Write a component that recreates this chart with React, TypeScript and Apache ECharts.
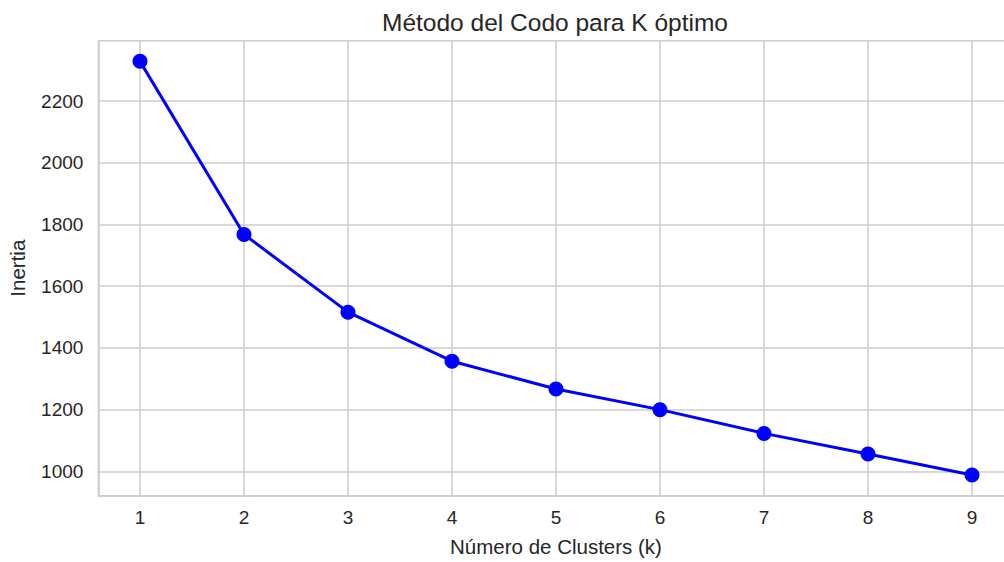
import React, { useEffect, useRef } from "react";
import * as echarts from "echarts";

const kValues = [1, 2, 3, 4, 5, 6, 7, 8, 9];
const inertia = [2329, 1768, 1516, 1357, 1267, 1200, 1123, 1056, 988];
const xTicks = [1, 2, 3, 4, 5, 6, 7, 8, 9];
const yTicks = [1000, 1200, 1400, 1600, 1800, 2000, 2200];

const FONT = "'Liberation Sans', Arial, sans-serif";
const TEXT = "#262626";
const GRID = "#cccccc";

export default function App() {
  const ref = useRef<HTMLDivElement>(null);
  useEffect(() => {
    if (!ref.current) return;
    const chart = echarts.init(ref.current, null, { renderer: "svg" });
    chart.setOption({
      animation: false,
      backgroundColor: "#ffffff",
      title: {
        text: "Método del Codo para K óptimo",
        left: 550,
        top: 5,
        textAlign: "center",
        textStyle: { fontFamily: FONT, fontSize: 24.5, fontWeight: "normal", color: TEXT },
      },
      grid: {
        left: 98.4,
        right: -9.6,
        top: 40.7,
        bottom: 66.3,
        show: true,
        borderColor: GRID,
        borderWidth: 1.5,
        containLabel: false,
        outerBoundsMode: "none",
      },
      xAxis: {
        type: "value",
        min: 0.6,
        max: 9.4,
        name: "Número de Clusters (k)",
        nameLocation: "middle",
        nameGap: 40,
        nameTextStyle: { fontFamily: FONT, fontSize: 20.5, color: TEXT },
        axisLine: { show: true, lineStyle: { color: GRID, width: 1.5 } },
        axisTick: { show: false, customValues: xTicks },
        axisLabel: { customValues: xTicks, fontFamily: FONT, fontSize: 19, color: TEXT, margin: 12 },
        splitLine: { show: true, lineStyle: { color: GRID, width: 1.5 } },
      },
      yAxis: {
        type: "value",
        min: 921,
        max: 2396,
        name: "Inertia",
        nameLocation: "middle",
        nameGap: 70,
        nameRotate: 90,
        nameTextStyle: { fontFamily: FONT, fontSize: 20.5, color: TEXT },
        axisLine: { show: true, lineStyle: { color: GRID, width: 1.5 } },
        axisTick: { show: false, customValues: yTicks },
        axisLabel: {
          customValues: yTicks,
          formatter: (v: number) => String(v),
          fontFamily: FONT,
          fontSize: 19,
          color: TEXT,
          margin: 15,
        },
        splitLine: { show: true, lineStyle: { color: GRID, width: 1.5 } },
      },
      series: [
        {
          type: "line",
          data: kValues.map((k, i) => [k, inertia[i]]),
          symbol: "circle",
          symbolSize: 15,
          lineStyle: { color: "#0000ff", width: 3 },
          itemStyle: { color: "#0000ff" },
          clip: false,
        },
      ],
    });
    return () => chart.dispose();
  }, []);
  return <div ref={ref} style={{ position: "absolute", left: 0, top: 0, width: 1004, height: 562 }} />;
}
